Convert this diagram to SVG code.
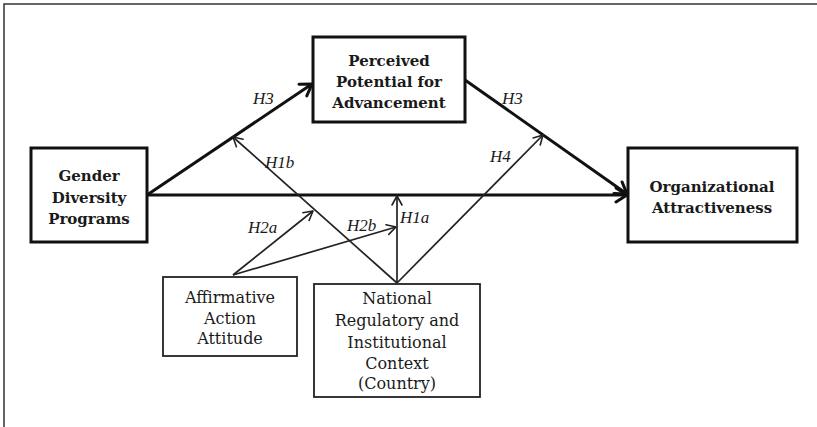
<svg xmlns="http://www.w3.org/2000/svg" width="817" height="427" viewBox="0 0 817 427">
<style>
.bg{fill:#fff}
.frame{fill:none;stroke:#333;stroke-width:1.5}
.box-thick{fill:#fff;stroke:#111;stroke-width:3}
.box-thin{fill:#fff;stroke:#222;stroke-width:1.8}
.t{font-family:"DejaVu Serif","Liberation Serif",serif;font-size:16px;fill:#1a1a1a;text-anchor:middle}
.b{font-weight:bold;font-size:15px}
.c-thick{fill:none;stroke:#111;stroke-width:3}
.c-thin{fill:none;stroke:#222;stroke-width:1.7}
.lab{font-family:"Liberation Serif",serif;font-style:italic;font-size:17px;fill:#1a1a1a}
</style>
<defs>
<marker id="ah-thick" markerUnits="userSpaceOnUse" viewBox="-13 -9 15 18" markerWidth="15" markerHeight="18" refX="0" refY="0" orient="auto">
<path d="M-11,-7 L0,0 L-11,7" fill="none" stroke="#111" stroke-width="3" stroke-linecap="round" stroke-linejoin="round"/>
</marker>
<marker id="ah-thin" markerUnits="userSpaceOnUse" viewBox="-11 -7 12 14" markerWidth="12" markerHeight="14" refX="0" refY="0" orient="auto">
<path d="M-9,-5 L0,0 L-9,5" fill="none" stroke="#222" stroke-width="1.6" stroke-linecap="round" stroke-linejoin="round"/>
</marker>
</defs>
<rect class="bg" x="0" y="0" width="817" height="427"/>
<path class="frame" d="M4,427 L4,4 L817,4"/>

<g id="connectors">
<line class="c-thick" x1="147" y1="195" x2="312" y2="84" marker-end="url(#ah-thick)"/>
<line class="c-thick" x1="465" y1="80" x2="627" y2="194" marker-end="url(#ah-thick)"/>
<line class="c-thick" x1="147" y1="195" x2="627" y2="195" marker-end="url(#ah-thick)"/>
<line class="c-thin" x1="397" y1="283" x2="233" y2="137" marker-end="url(#ah-thin)"/>
<line class="c-thin" x1="397" y1="283" x2="397" y2="196" marker-end="url(#ah-thin)"/>
<line class="c-thin" x1="397" y1="283" x2="543" y2="135" marker-end="url(#ah-thin)"/>
<line class="c-thin" x1="233" y1="275" x2="313" y2="211" marker-end="url(#ah-thin)"/>
<line class="c-thin" x1="233" y1="275" x2="396" y2="227" marker-end="url(#ah-thin)"/>
<text class="lab" x="253" y="104">H3</text>
<text class="lab" x="502" y="104">H3</text>
<text class="lab" x="265" y="168">H1b</text>
<text class="lab" x="490" y="162">H4</text>
<text class="lab" x="400" y="223">H1a</text>
<text class="lab" x="248" y="233">H2a</text>
<text class="lab" x="347" y="231">H2b</text>
</g>

<g id="gender">
<rect class="box-thick" x="31" y="148" width="116" height="94"/>
<text class="t b" x="89" y="181">Gender</text>
<text class="t b" x="89" y="203">Diversity</text>
<text class="t b" x="89" y="224">Programs</text>
</g>

<g id="perceived">
<rect class="box-thick" x="313" y="37" width="152" height="85"/>
<text class="t b" x="389" y="66">Perceived</text>
<text class="t b" x="389" y="87">Potential for</text>
<text class="t b" x="389" y="108">Advancement</text>
</g>

<g id="organizational">
<rect class="box-thick" x="628" y="148" width="169" height="94"/>
<text class="t b" x="712" y="192">Organizational</text>
<text class="t b" x="712" y="213">Attractiveness</text>
</g>

<g id="affirmative">
<rect class="box-thin" x="163" y="277" width="134" height="79"/>
<text class="t" x="230" y="303">Affirmative</text>
<text class="t" x="230" y="324">Action</text>
<text class="t" x="230" y="344">Attitude</text>
</g>

<g id="national">
<rect class="box-thin" x="314" y="284" width="166" height="113"/>
<text class="t" x="397" y="304">National</text>
<text class="t" x="397" y="326">Regulatory and</text>
<text class="t" x="397" y="348">Institutional</text>
<text class="t" x="397" y="369">Context</text>
<text class="t" x="397" y="389">(Country)</text>
</g>
</svg>
